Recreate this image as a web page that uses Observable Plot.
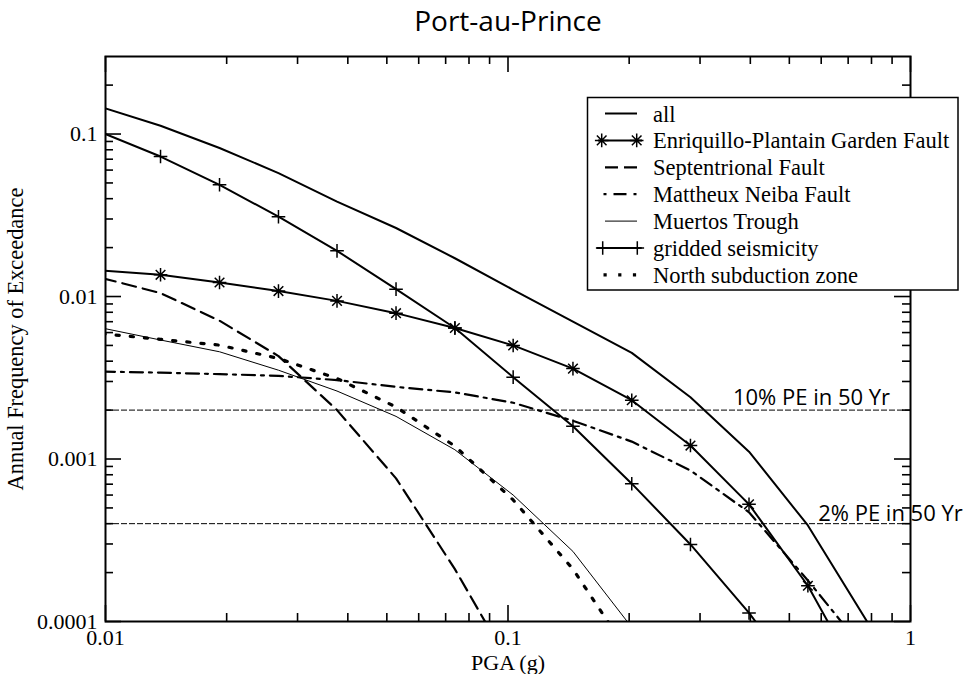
<!DOCTYPE html>
<html>
<head>
<meta charset="utf-8">
<script src="https://cdn.jsdelivr.net/npm/d3@7"></script>
<script src="https://cdn.jsdelivr.net/npm/@observablehq/plot@0.6"></script>
<style>
  html, body { margin: 0; padding: 0; background: #fff; overflow: hidden; }
  #chart { width: 974px; height: 674px; }
</style>
</head>
<body>
<div id="chart"></div>
<script>
// ---------- data ----------
const pga = [0.0098, 0.0137, 0.0192, 0.0269, 0.0376, 0.0527, 0.0738, 0.103, 0.145, 0.203, 0.284, 0.397, 0.556, 0.778, 1.09];

const allSources      = [0.146, 0.1125, 0.082, 0.0575, 0.0384, 0.0264, 0.0172, 0.0110, 0.0070, 0.0045, 0.0024, 0.00111, 0.00039, 0.000101, 0.000018];
const enriquillo      = [0.01445, 0.0136, 0.0122, 0.0108, 0.0094, 0.0079, 0.0064, 0.0050, 0.0036, 0.0023, 0.00121, 0.000526, 0.000166, 0.000037];
const septentrional   = [0.0130, 0.0105, 0.0071, 0.0043, 0.0020, 0.00076, 0.00021, 0.00005];
const mattheux        = [0.00345, 0.0034, 0.00333, 0.00325, 0.00306, 0.00278, 0.00257, 0.00222, 0.00172, 0.00128, 0.00085, 0.00047, 0.000179, 0.000064];
const muertos         = [0.0064, 0.0054, 0.00457, 0.00352, 0.00262, 0.00183, 0.00114, 0.0006, 0.00027, 0.000092];
const gridded         = [0.102, 0.0727, 0.0487, 0.031, 0.0191, 0.0111, 0.0064, 0.00319, 0.00159, 0.000705, 0.000298, 0.000113, 0.000037];
const northSubduction = [0.0059, 0.00545, 0.00502, 0.00416, 0.00313, 0.00209, 0.0012, 0.00056, 0.00021, 0.00006];

const seriesNames = ["all", "Enriquillo-Plantain Garden Fault", "Septentrional Fault", "Mattheux Neiba Fault", "Muertos Trough", "gridded seismicity", "North subduction zone"];
const seriesValues = [allSources, enriquillo, septentrional, mattheux, muertos, gridded, northSubduction];

const refValues = [0.002, 0.0004];
const refLabels = ["10% PE in 50 Yr", "2% PE in 50 Yr"];

const xMajorTicks = [0.01, 0.1, 1];
const xTickLabels = ["0.01", "0.1", "1"];
const xMinorTicks = [0.02, 0.03, 0.04, 0.05, 0.06, 0.07, 0.08, 0.09, 0.2, 0.3, 0.4, 0.5, 0.6, 0.7, 0.8, 0.9];
const yMajorTicks = [0.0001, 0.001, 0.01, 0.1];
const yTickLabels = ["0.0001", "0.001", "0.01", "0.1"];
const yMinorTicks = [0.0002, 0.0003, 0.0004, 0.0005, 0.0006, 0.0007, 0.0008, 0.0009,
                     0.002, 0.003, 0.004, 0.005, 0.006, 0.007, 0.008, 0.009,
                     0.02, 0.03, 0.04, 0.05, 0.06, 0.07, 0.08, 0.09, 0.2];

const titleText = "Port-au-Prince";
const xLabel = "PGA (g)";
const yLabel = "Annual Frequency of Exceedance";

// ---------- styles ----------
const W = 974, H = 674;
const mTop = 56, mBottom = 53, mLeft = 105, mRight = 64;
const FW = W - mLeft - mRight, FH = H - mTop - mBottom;
const serif = "'Liberation Serif', 'Times New Roman', serif";
const sans = "'Open Sans', 'DejaVu Sans', sans-serif";

const star8 = {
  draw(ctx, size) {
    const r = Math.sqrt(size / Math.PI), a = r * Math.SQRT1_2;
    ctx.moveTo(0, -r); ctx.lineTo(0, r);
    ctx.moveTo(-r, 0); ctx.lineTo(r, 0);
    ctx.moveTo(-a, -a); ctx.lineTo(a, a);
    ctx.moveTo(-a, a); ctx.lineTo(a, -a);
  }
};
const plus = {
  draw(ctx, size) {
    const r = Math.sqrt(size / Math.PI);
    ctx.moveTo(0, -r); ctx.lineTo(0, r);
    ctx.moveTo(-r, 0); ctx.lineTo(r, 0);
  }
};

const styles = [
  {strokeWidth: 2, dash: null, marker: null},
  {strokeWidth: 2, dash: null, marker: star8},
  {strokeWidth: 2.2, dash: "14,7", marker: null},
  {strokeWidth: 2.2, dash: "13,6,3,6", marker: null},
  {strokeWidth: 1, dash: null, marker: null},
  {strokeWidth: 2, dash: null, marker: plus},
  {strokeWidth: 3.2, dash: "3.2,11", marker: null}
];

const table = seriesValues.map((vals, s) => vals.map((v, i) => ({series: seriesNames[s], x: pga[i], y: v})));

const marks = [];
// reference lines
marks.push(Plot.ruleY(refValues, {y: d => d, stroke: "black", strokeWidth: 1, strokeDasharray: "6,2"}));
// curves
table.forEach((rows, s) => {
  const st = styles[s];
  marks.push(Plot.line(rows, {x: "x", y: "y", stroke: "black", strokeWidth: st.strokeWidth,
    strokeDasharray: st.dash, strokeLinejoin: "round", clip: true}));
  if (st.marker) {
    marks.push(Plot.dot(rows.filter(d => d.x >= 0.01 && d.y >= 0.0001), {x: "x", y: "y", symbol: st.marker, r: 6.8,
      fill: "none", stroke: "black", strokeWidth: 1.5, clip: true}));
  }
});
// reference labels
marks.push(Plot.text([refLabels[0]], {y: () => refValues[0], frameAnchor: "right", dx: -99, dy: -5, textAnchor: "middle", lineAnchor: "bottom", fontFamily: sans, fontSize: 22}));
marks.push(Plot.text([refLabels[1]], {y: () => refValues[1], frameAnchor: "right", dx: -20, dy: -3, textAnchor: "middle", lineAnchor: "bottom", fontFamily: sans, fontSize: 22}));
// inward ticks on all four sides
const tk = {stroke: "black", strokeWidth: 1.6};
marks.push(Plot.tickX(xMajorTicks, {x: d => d, insetTop: FH - 16, ...tk}));
marks.push(Plot.tickX(xMajorTicks, {x: d => d, insetBottom: FH - 16, ...tk}));
marks.push(Plot.tickX(xMinorTicks, {x: d => d, insetTop: FH - 8, ...tk}));
marks.push(Plot.tickX(xMinorTicks, {x: d => d, insetBottom: FH - 8, ...tk}));
marks.push(Plot.tickY(yMajorTicks, {y: d => d, insetRight: FW - 16, ...tk}));
marks.push(Plot.tickY(yMajorTicks, {y: d => d, insetLeft: FW - 16, ...tk}));
marks.push(Plot.tickY(yMinorTicks, {y: d => d, insetRight: FW - 8, ...tk}));
marks.push(Plot.tickY(yMinorTicks, {y: d => d, insetLeft: FW - 8, ...tk}));
// tick labels
marks.push(Plot.axisX({ticks: xMajorTicks, tickFormat: d => xTickLabels[xMajorTicks.indexOf(d)], tickSize: 0, tickPadding: 8, label: null, fontSize: 22}));
marks.push(Plot.axisY({ticks: yMajorTicks, tickFormat: d => yTickLabels[yMajorTicks.indexOf(d)], tickSize: 0, tickPadding: 8, label: null, fontSize: 22}));
// frame
marks.push(Plot.frame({stroke: "black", strokeWidth: 2}));
// axis titles + chart title
marks.push(Plot.text([xLabel], {frameAnchor: "bottom", dy: 48, textAnchor: "middle", lineAnchor: "bottom", fontSize: 22}));
marks.push(Plot.text([yLabel], {frameAnchor: "left", rotate: -90, dx: -90, textAnchor: "middle", lineAnchor: "middle", fontSize: 22.4}));
marks.push(Plot.text([titleText], {frameAnchor: "top", dy: -26, textAnchor: "middle", lineAnchor: "bottom", fontFamily: sans, fontSize: 28}));

const chart = Plot.plot({
  width: W, height: H,
  marginTop: mTop, marginBottom: mBottom, marginLeft: mLeft, marginRight: mRight,
  x: {type: "log", domain: [0.01, 1], axis: null},
  y: {type: "log", domain: [0.0001, 0.3], axis: null},
  style: {fontFamily: serif, fontSize: "22px", color: "black", background: "white", overflow: "visible"},
  marks
});

// ---------- legend ----------
const svg = d3.select(chart);
const lg = svg.append("g").attr("class", "legend");
lg.append("rect").attr("x", 587.5).attr("y", 97.5).attr("width", 958 - 587.5).attr("height", 290 - 97.5)
  .attr("fill", "white").attr("stroke", "black").attr("stroke-width", 1.5);
const sampleDefs = [
  {x1: 605, x2: 637, dash: null},
  {x1: 598, x2: 642, dash: null, marks: [601.7, 636.7]},
  {x1: 605, x2: 637, dash: "13,6"},
  {x1: 603.5, x2: 636.5, dash: "3,7,13,7,3"},
  {x1: 605, x2: 637, dash: null},
  {x1: 596.7, x2: 641.7, dash: null, marks: [602.7, 637.3]},
  {x1: 603.5, x2: 636.5, dash: "3.2,11.5"}
];
seriesNames.forEach((name, i) => {
  const base = 121.5 + i * 26.9;
  const cy = base - 8;
  const sd = sampleDefs[i], st = styles[i];
  lg.append("line").attr("x1", sd.x1).attr("x2", sd.x2).attr("y1", cy).attr("y2", cy)
    .attr("stroke", "black").attr("stroke-width", st.strokeWidth)
    .attr("stroke-dasharray", sd.dash);
  if (sd.marks) {
    sd.marks.forEach(mx => {
      const p = d3.path();
      st.marker.draw(p, 6.8 * 6.8 * Math.PI);
      lg.append("path").attr("d", p.toString()).attr("transform", `translate(${mx},${cy})`)
        .attr("fill", "none").attr("stroke", "black").attr("stroke-width", 1.5);
    });
  }
  lg.append("text").attr("x", 653).attr("y", base).attr("font-family", serif).attr("font-size", 22.5)
    .attr("text-anchor", "start").attr("fill", "black").text(name);
});

document.getElementById("chart").appendChild(chart);
</script>
</body>
</html>
